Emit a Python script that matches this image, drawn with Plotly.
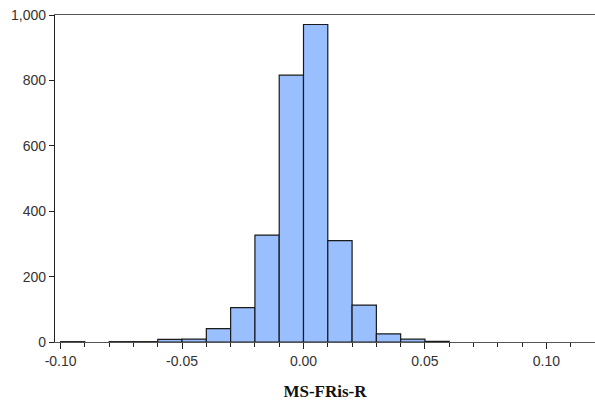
import plotly.graph_objects as go

bin_starts = [-0.10, -0.09, -0.08, -0.07, -0.06, -0.05, -0.04, -0.03, -0.02, -0.01,
              0.00, 0.01, 0.02, 0.03, 0.04, 0.05]
counts = [1, 0, 1, 1, 8, 9, 41, 105, 327, 816,
          971, 310, 113, 25, 9, 2]
bin_width = 0.01
x_tick_vals = [-0.10, -0.05, 0.00, 0.05, 0.10]
x_tick_text = ["-0.10", "-0.05", "0.00", "0.05", "0.10"]
y_tick_vals = [0, 200, 400, 600, 800, 1000]
y_tick_text = ["0", "200", "400", "600", "800", "1,000"]

xs = [s + bin_width / 2 for s in bin_starts]
keep = [i for i, c in enumerate(counts) if c > 0]

fig = go.Figure(go.Bar(
    x=[xs[i] for i in keep],
    y=[counts[i] for i in keep],
    width=bin_width,
    marker=dict(color="#99BFFF", line=dict(color="#1a1a1a", width=1.2)),
))

fig.update_layout(
    width=595, height=407,
    margin=dict(l=55, r=0, t=15, b=65, autoexpand=False),
    plot_bgcolor="white", paper_bgcolor="white",
    showlegend=False,
    font=dict(family="Liberation Sans, Arial", size=14, color="#333"),
)
fig.update_xaxes(
    range=[-0.1023, 0.12], automargin=False,
    tickvals=x_tick_vals, ticktext=x_tick_text,
    ticks="outside", ticklen=6, tickcolor="#222", tickwidth=1.3,
    minor=dict(dtick=0.01, tick0=0, ticks="outside", ticklen=3.5, tickcolor="#222", tickwidth=1.3),
    showline=True, linecolor="#555", linewidth=1.3, mirror=True,
    showgrid=False, zeroline=False, ticklabeloverflow="allow",
    tickfont=dict(family="Liberation Sans, Arial", size=14, color="#333"),
    title=dict(text="<b>MS-FRis-R</b>", font=dict(family="Liberation Serif, Times New Roman", size=17, color="#111"), standoff=17),
)
fig.update_yaxes(
    range=[0, 1000], automargin=False,
    tickvals=y_tick_vals, ticktext=y_tick_text,
    ticks="outside", ticklen=5, tickcolor="#222", tickwidth=1.3,
    showline=True, linecolor="#222", linewidth=1.3,
    showgrid=False, zeroline=False, ticklabeloverflow="allow",
    tickfont=dict(family="Liberation Sans, Arial", size=14, color="#333"),
)

fig.write_html(
    "out.html",
    config={"displayModeBar": False},
    post_script="document.body.style.margin='0';document.body.style.overflow='hidden';",
)
